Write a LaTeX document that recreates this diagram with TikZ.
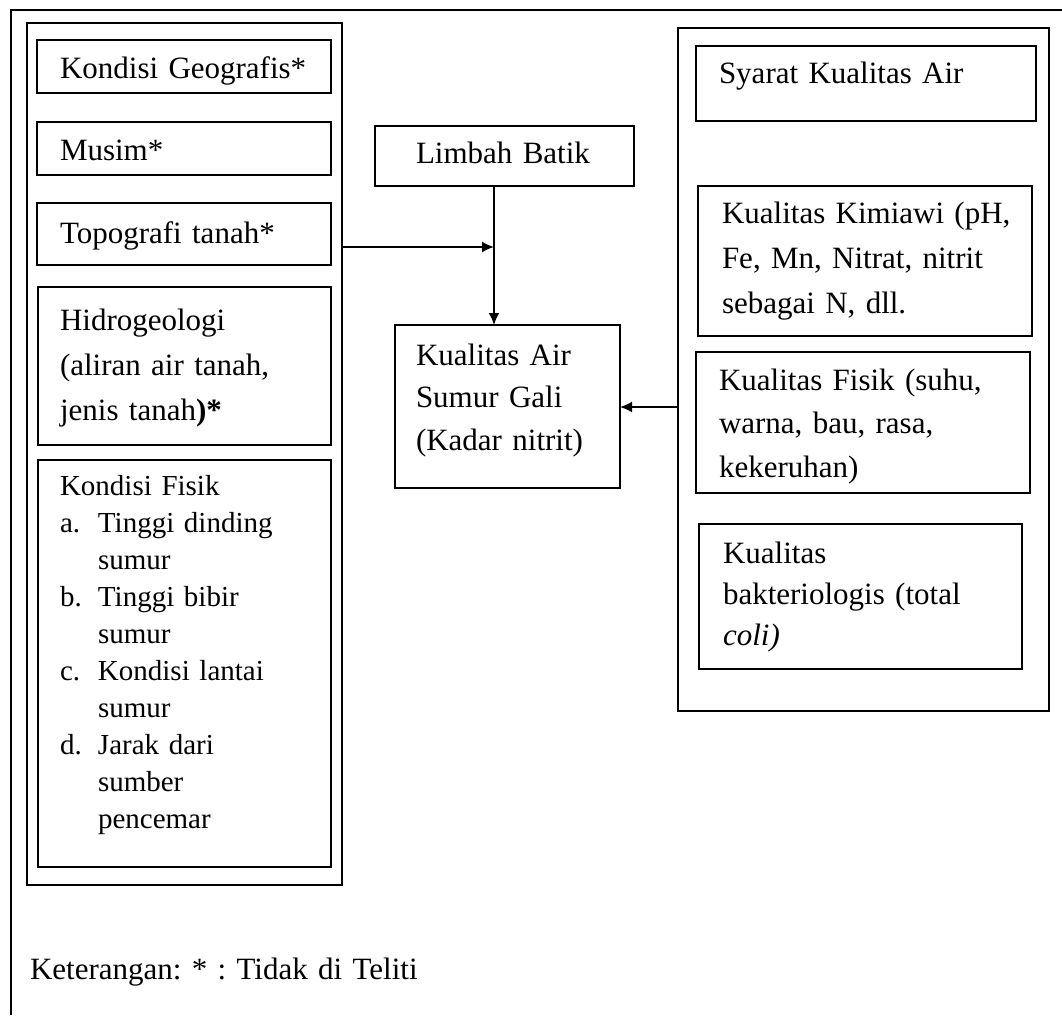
\documentclass[tikz,border=0pt]{standalone}
\usepackage{fontspec}
\setmainfont{Liberation Serif}
\usetikzlibrary{arrows.meta}
\frenchspacing
\begin{document}
\begin{tikzpicture}[x=1pt,y=-1pt,
  box/.style={draw=black,line width=1.8pt,inner sep=0pt,outer sep=0pt,anchor=north west},
  frameline/.style={line width=2.6pt},
  txt/.style={inner sep=0pt,outer sep=0pt,anchor=base west,align=left,text width=340pt,
    font=\fontsize{31}{44}\selectfont},
  arr/.style={line width=1.8pt,-{Latex[length=12pt,width=11pt]}}]
\useasboundingbox (0,0) rectangle (1062,1015);
% outer frame (top and left only)
\coordinate (fA) at (11,1015);
\coordinate (fB) at (11,10);
\coordinate (fC) at (1062,10);
\draw[frameline] (fA) -- (fB) -- (fC);
% left container and boxes
\node[box,minimum width=315pt,minimum height=862pt] (leftC) at (27,23) {};
\node[box,minimum width=294pt,minimum height=53pt] (geo) at (37,40) {};
\node[box,minimum width=294pt,minimum height=53pt] (musim) at (37,122) {};
\node[box,minimum width=294pt,minimum height=62pt] (topo) at (37,203) {};
\node[box,minimum width=293pt,minimum height=158pt] (hidro) at (38,287) {};
\node[box,minimum width=293pt,minimum height=407pt] (fisik) at (38,460) {};
% center boxes
\node[box,minimum width=259pt,minimum height=60pt] (limbah) at (375,126) {};
\node[box,minimum width=225pt,minimum height=163pt] (kual) at (395,325) {};
% right container and boxes
\node[box,minimum width=371pt,minimum height=683pt] (rightC) at (678,28) {};
\node[box,minimum width=340pt,minimum height=75pt] (syarat) at (696,46) {};
\node[box,minimum width=334pt,minimum height=150pt] (kimia) at (698,186) {};
\node[box,minimum width=334pt,minimum height=141pt] (fisikR) at (696,352) {};
\node[box,minimum width=323pt,minimum height=145pt] (bakteri) at (699,524) {};
% texts
\node[txt] (tgeo) at (60,78) {Kondisi Geografis*};
\node[txt] (tmusim) at (60,160) {Musim*};
\node[txt] (ttopo) at (60,243) {Topografi tanah*};
\node[txt,font=\fontsize{31}{45}\selectfont] (thidro) at (60,330) {Hidrogeologi\\(aliran air tanah,\\jenis tanah\textbf{)*}};
\node[txt,font=\fontsize{29}{37}\selectfont] (tfisik) at (60,495) {Kondisi Fisik\\
\makebox[38pt][l]{a.}Tinggi dinding\\\hspace*{38pt}sumur\\
\makebox[38pt][l]{b.}Tinggi bibir\\\hspace*{38pt}sumur\\
\makebox[38pt][l]{c.}Kondisi lantai\\\hspace*{38pt}sumur\\
\makebox[38pt][l]{d.}Jarak dari\\\hspace*{38pt}sumber\\\hspace*{38pt}pencemar};
\node[txt] (tlimbah) at (416,163) {Limbah Batik};
\node[txt,font=\fontsize{31}{42.5}\selectfont] (tkual) at (416,365) {Kualitas Air\\Sumur Gali\\(Kadar nitrit)};
\node[txt] (tsyarat) at (719,83) {Syarat Kualitas Air};
\node[txt,font=\fontsize{31}{45}\selectfont] (tkimia) at (722,223) {Kualitas Kimiawi (pH,\\Fe, Mn, Nitrat, nitrit\\sebagai N, dll.};
\node[txt,font=\fontsize{31}{43.5}\selectfont] (tfisikR) at (719,390) {Kualitas Fisik (suhu,\\warna, bau, rasa,\\kekeruhan)};
\node[txt,font=\fontsize{31}{41}\selectfont] (tbakteri) at (723,563) {Kualitas\\bakteriologis (total\\\textit{coli)}};
\node[txt,text width=500pt] (tket) at (30,979) {Keterangan: * : Tidak di Teliti};
% connectors
\coordinate (vx) at (494,247);
\coordinate (hy) at (650,407);
\draw[arr] (limbah.south -| vx) -- (kual.north -| vx);
\draw[arr] (leftC.east |- vx) -- (vx);
\draw[arr] (rightC.west |- hy) -- (kual.east |- hy);
\end{tikzpicture}
\end{document}
